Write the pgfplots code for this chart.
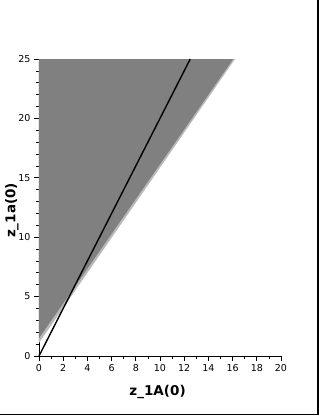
\documentclass[border=0pt]{standalone}
\usepackage{pgfplots}
\pgfplotsset{compat=1.18}
\usepackage{fontspec}
\setmainfont{DejaVu Sans}
\definecolor{regiongray}{RGB}{128,128,128}
\definecolor{edgegray}{RGB}{185,185,185}
\begin{document}
\begin{tikzpicture}
\useasboundingbox (-39pt,-60pt) rectangle (280pt,356pt);
\begin{axis}[
  at={(0,0)}, anchor=south west,
  width=242pt, height=297pt, scale only axis,
  xmin=0, xmax=20, ymin=0, ymax=25,
  axis lines*=left,
  axis line style={line width=0.8pt},
  tick align=outside,
  xtick={0,2,...,20}, minor x tick num=1,
  ytick={0,5,...,25}, minor y tick num=4,
  major tick length=5pt, minor tick length=3pt,
  tick style={black, line width=0.7pt},
  tick label style={font=\fontsize{9.5}{11}\selectfont},
  /pgf/number format/assume math mode=true,
  clip=false,
  xlabel={z\_1A(0)},
  ylabel={z\_1a(0)},
  label style={font=\bfseries\fontsize{13.5}{15}\selectfont},
  xlabel style={at={(axis description cs:0.49,-0.121)}, anchor=center},
  ylabel style={at={(axis description cs:-0.112,0.49)}, anchor=center},
]
\addplot[fill=edgegray, draw=none] coordinates {(0,1.1) (0,25) (16.4,25) (16.2,25)} -- cycle;
\addplot[fill=regiongray, draw=none] coordinates {(0,1.5) (0,25) (16.05,25)} -- cycle;
\addplot[black, line width=1.4pt] coordinates {(0,0) (12.5,25)};
\end{axis}
\draw[line width=1.6pt] (-39pt,-58.5pt) -- (279pt,-58.5pt) -- (279pt,356pt);
\end{tikzpicture}
\end{document}
